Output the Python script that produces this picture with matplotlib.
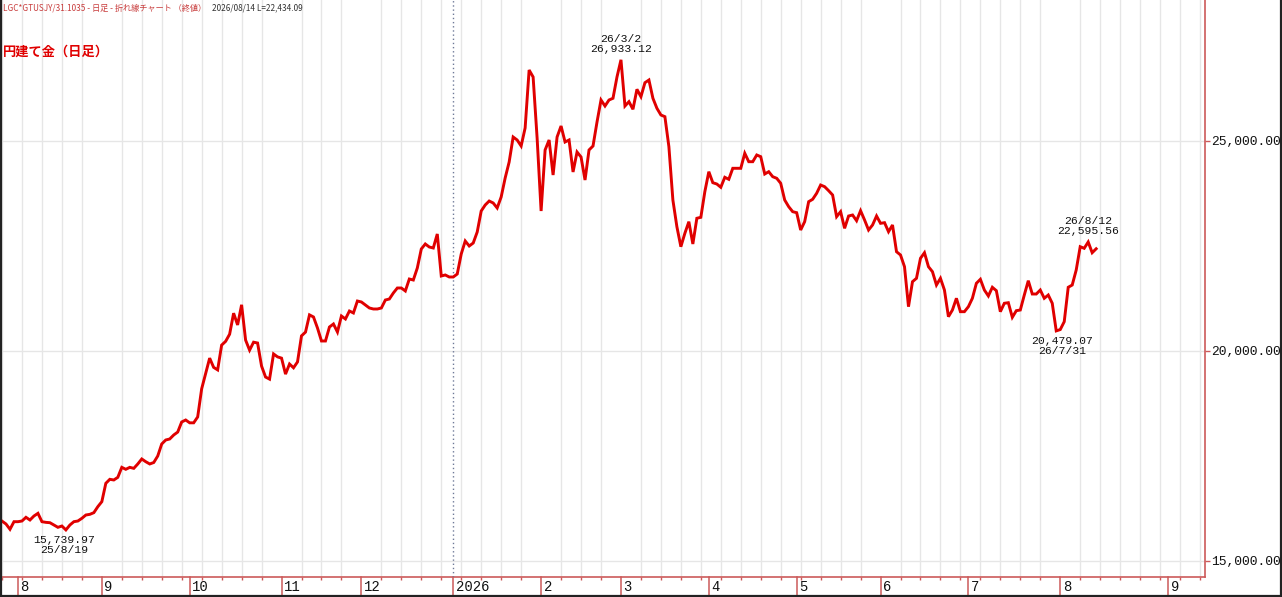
import numpy as np
import matplotlib
matplotlib.use("Agg")
import matplotlib.pyplot as plt
from matplotlib.lines import Line2D
from matplotlib.transforms import ScaledTranslation

# ---- data (one value per weekday, starting Mon 2025-07-28) ----
prices = [
    15950, 15881, 15755, 15936, 15936, 15952, 16040, 15976, 16071, 16135,
    15936, 15920, 15912, 15857, 15802, 15833, 15739.97, 15857, 15936, 15952,
    16016, 16095, 16111, 16151, 16294, 16413, 16850, 16945, 16929, 16992,
    17230, 17183, 17230, 17206, 17310, 17429, 17364, 17310, 17345, 17500,
    17786, 17881, 17905, 18000, 18070, 18310, 18357, 18290, 18290, 18430,
    19100, 19470, 19830, 19610, 19550, 20140, 20230, 20400, 20900, 20620,
    21100, 20260, 20020, 20210, 20190, 19640, 19380, 19330, 19930, 19860,
    19830, 19450, 19690, 19600, 19740, 20360, 20450, 20860, 20810, 20548,
    20238, 20238, 20571, 20643, 20452, 20833, 20762, 20952, 20905, 21190,
    21167, 21095, 21024, 21000, 21000, 21024, 21214, 21238, 21381, 21500,
    21500, 21429, 21714, 21690, 21976, 22429, 22548, 22476, 22452, 22786,
    21786, 21810, 21762, 21762, 21833, 22310, 22619, 22500, 22571, 22833,
    23333, 23476, 23571, 23524, 23405, 23667, 24119, 24500, 25095, 25024,
    24881, 25310, 26690, 26524, 25071, 23333, 24786, 25024, 24190, 25095,
    25357, 24976, 25024, 24262, 24738, 24619, 24071, 24786, 24881, 25452,
    25976, 25833, 25976, 26017, 26524, 26933.12, 25833, 25936, 25755, 26231,
    26055, 26388, 26452, 26017, 25779, 25619, 25579, 24864, 23595, 22960,
    22483, 22802, 23079, 22548, 23160, 23183, 23793, 24269, 24007, 23976,
    23898, 24136, 24088, 24350, 24350, 24350, 24707, 24507, 24507, 24667,
    24626, 24214, 24269, 24150, 24112, 23993, 23595, 23436, 23317, 23293,
    22881, 23079, 23555, 23612, 23755, 23952, 23912, 23817, 23714, 23198,
    23317, 22921, 23214, 23238, 23102, 23340, 23119, 22881, 23000, 23214,
    23040, 23055, 22840, 23000, 22364, 22286, 22007, 21055, 21650, 21731,
    22207, 22340, 22007, 21888, 21571, 21731, 21452, 20817, 20976, 21255,
    20936, 20936, 21055, 21255, 21612, 21707, 21452, 21310, 21517, 21436,
    20936, 21136, 21150, 20802, 20960, 20976, 21333, 21674, 21357, 21357,
    21452, 21255, 21333, 21136, 20479.07, 20510, 20698, 21517, 21571, 21929,
    22483, 22445, 22595.56, 22340, 22434.09,
]
month_pos = [4, 25, 47, 70, 90, 113, 135, 155, 177, 199, 220, 242, 265, 292]
month_labels = ["8", "9", "10", "11", "12", "2026", "2", "3", "4", "5", "6", "7", "8", "9"]
year_pos = 113
y_ticks = [15000, 20000, 25000]
ann_idx = [155, 272, 264, 16]
ann_val = [26933.12, 22595.56, 20479.07, 15739.97]
ann_date = ["26/3/2", "26/8/12", "26/7/31", "25/8/19"]
ann_above = [True, True, False, False]
ann_dx = [0, 0, 6, -2]
header_src = "LGC*GTUSJY/31.1035 - 日足 - 折れ線チャート （終値）"
header_last = "2026/08/14 L=22,434.09"
title = "円建て金（日足）"

# ---- styling ----
plt.rcParams['font.family'] = ['Liberation Mono', 'Noto Sans CJK JP', 'DejaVu Sans']
RED_AX = '#cc5a5a'
LINE_RED = '#e00000'
GRID = '#e6e6e6'

W, H = 1282, 597
fig = plt.figure(figsize=(W / 100, H / 100), dpi=100)
fig.patch.set_facecolor('white')
ax = fig.add_axes([2 / W, 20 / H, 1203 / W, 577 / H])
ax.set_xlim(0.5, 301.25)
ax.set_ylim(14619, 28357)

x = np.arange(len(prices))
ax.plot(x, prices, color=LINE_RED, lw=2.1, solid_joinstyle='miter', zorder=5)

# grid
ax.set_xticks(np.arange(0, 301, 5), minor=True)
ax.set_xticks(month_pos)
ax.set_xticklabels([])
ax.grid(which='minor', axis='x', color=GRID, lw=1)
ax.set_yticks(y_ticks)
ax.grid(which='major', axis='y', color=GRID, lw=1)
ax.tick_params(axis='x', which='major', length=0)
ax.tick_params(axis='x', which='minor', length=2.5, color=RED_AX, direction='out', width=1)

# year separator
ax.axvline(year_pos, color='#6f7a98', lw=1, ls=(0, (1, 2)), zorder=3)

# y axis on the right
ax.yaxis.tick_right()
ax.set_yticklabels([f"{v:,.2f}" for v in y_ticks])
ax.tick_params(axis='y', length=3.5, color=RED_AX, width=1, pad=1.0,
               labelsize=9.4, labelcolor='#111111')

for s in ['top', 'left']:
    ax.spines[s].set_visible(False)
for s in ['right', 'bottom']:
    ax.spines[s].set_color(RED_AX)
    ax.spines[s].set_linewidth(1.2)

# month ticks / labels in the bottom band
trans = ax.get_xaxis_transform()
band = 20 / 577
for p, lab in zip(month_pos, month_labels):
    ax.plot([p, p], [0, -band], transform=trans, color=RED_AX, lw=1.1, clip_on=False)
    ax.text(p, -band / 2, lab, transform=trans + ScaledTranslation(2.5 / 100, 0, fig.dpi_scale_trans),
            ha='left', va='center', fontsize=10, color='#111111', clip_on=False)

# annotations
for i, v, d, above, dx in zip(ann_idx, ann_val, ann_date, ann_above, ann_dx):
    if above:
        txt = f"{d}\n{v:,.2f}"
        ax.annotate(txt, (i, v), xytext=(dx * 0.72, 4.5), textcoords='offset points',
                    ha='center', va='bottom', fontsize=8.2, linespacing=1.0, color='#111111')
    else:
        txt = f"{v:,.2f}\n{d}"
        ax.annotate(txt, (i, v), xytext=(dx * 0.72, -3.5), textcoords='offset points',
                    ha='center', va='top', fontsize=8.2, linespacing=1.0, color='#111111')

# header texts
fig.text(3 / W, 1 - 8 / H, header_src, color='#c83c3c', fontsize=5.9,
         family=['Noto Sans CJK JP', 'DejaVu Sans'], va='center', ha='left')
fig.text(212 / W, 1 - 8 / H, header_last, color='#333333', fontsize=5.9,
         family=['Noto Sans CJK JP', 'DejaVu Sans'], va='center', ha='left')
fig.text(3 / W, 1 - 52 / H, title, color='#e00000', fontsize=9.5, weight='bold',
         family=['Noto Sans CJK JP', 'DejaVu Sans'], va='center', ha='left')

# outer frame
for xs, ys in [([1 / W, 1 / W], [0, 1]), ([(W - 1.5) / W, (W - 1.5) / W], [0, 1]),
               ([0, 1], [1 / H, 1 / H])]:
    fig.add_artist(Line2D(xs, ys, color='#222222', lw=1.6, transform=fig.transFigure))

fig.savefig('out.png', dpi=100, facecolor='white')
